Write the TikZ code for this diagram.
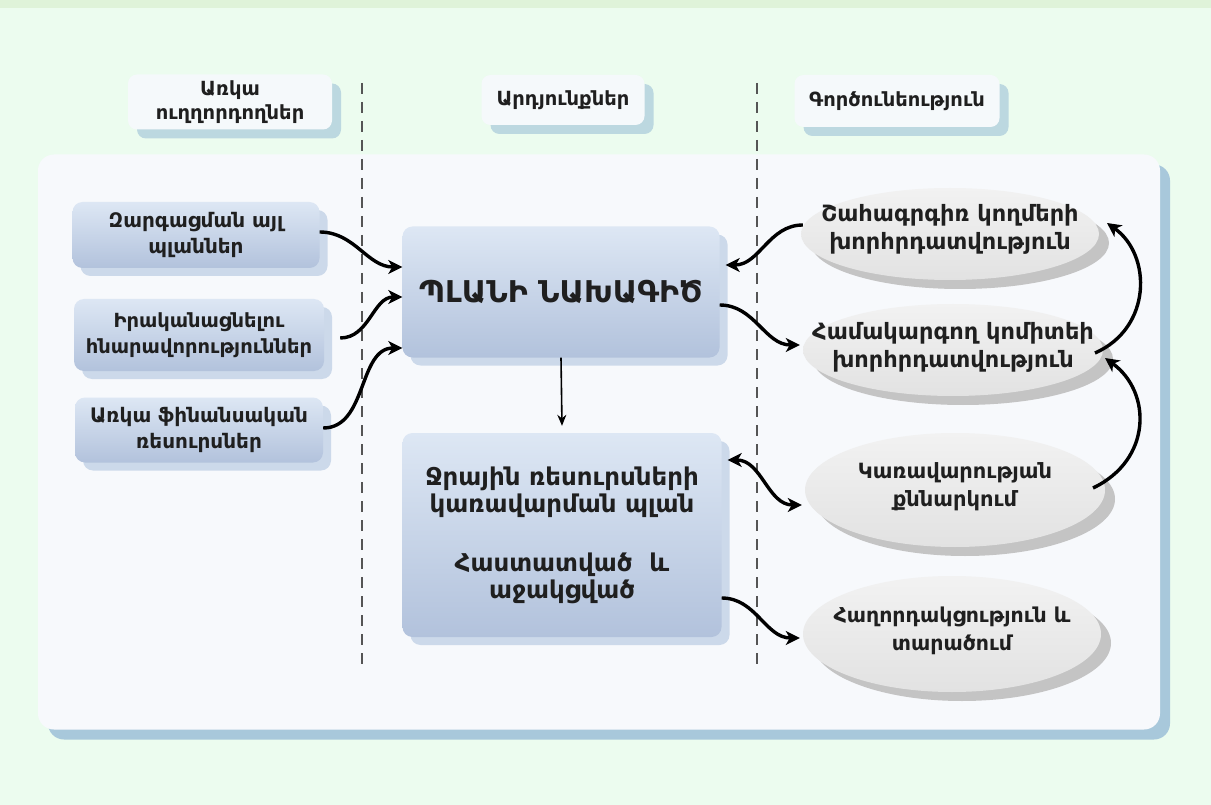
\documentclass[tikz,border=0pt]{standalone}
\usepackage{fontspec}
\setmainfont{DejaVu Sans}
\usetikzlibrary{arrows.meta,shadows,shapes.geometric,calc}
\definecolor{bgc}{HTML}{ECFCEF}
\definecolor{topc}{HTML}{DFF3D9}
\definecolor{panelc}{HTML}{F7F9FC}
\definecolor{panelsh}{HTML}{A8C8DB}
\definecolor{boxtop}{HTML}{DDE7F4}
\definecolor{boxbot}{HTML}{B2C2DC}
\definecolor{boxsh}{HTML}{CCD9EA}
\definecolor{hdrc}{HTML}{F5F9FB}
\definecolor{hdrsh}{HTML}{BCD8E0}
\definecolor{elltop}{HTML}{F2F2F2}
\definecolor{ellbot}{HTML}{E2E2E2}
\definecolor{ellsh}{HTML}{C4C4C4}
\definecolor{dashc}{HTML}{555555}
\begin{document}
\begin{tikzpicture}[x=1pt,y=-1pt,
  txt/.style={font=\bfseries\fontsize{20}{26}\selectfont, text=black!88, align=center},
  hdr/.style={txt, font=\bfseries\fontsize{19.5}{24}\selectfont, rounded corners=9pt, fill=hdrc, inner sep=0pt,
    drop shadow={shadow xshift=9pt, shadow yshift=-9pt, fill=hdrsh, opacity=1}},
  bluebox/.style={txt, rounded corners=10pt, top color=boxtop, bottom color=boxbot, inner sep=0pt,
    drop shadow={shadow xshift=8pt, shadow yshift=-8pt, fill=boxsh, opacity=1}},
  ell/.style={ellipse, top color=elltop, bottom color=ellbot, inner sep=0pt,
    drop shadow={shadow xshift=10pt, shadow yshift=-9pt, fill=ellsh, opacity=1}},
  arr/.style={line width=3.4pt, -{Stealth[length=14pt,width=14pt,inset=4pt]}},
  darr/.style={line width=3.4pt, {Stealth[length=14pt,width=14pt,inset=4pt]}-{Stealth[length=14pt,width=14pt,inset=4pt]}},
  sep/.style={dashc, line width=1.8pt, dash pattern=on 11pt off 8pt}
]
\useasboundingbox (0,0) rectangle (1211,805);
\fill[bgc] (0,0) rectangle (1211,805);
\fill[topc] (0,0) rectangle (1211,8);

% panel
\node[rounded corners=16pt, fill=panelc, minimum width=1122pt, minimum height=575pt, inner sep=0pt,
  drop shadow={shadow xshift=10pt, shadow yshift=-10pt, fill=panelsh, opacity=1}] (panel) at (599,442) {};

% separators
\coordinate (s1t) at (362,83); \coordinate (s1b) at (362,665);
\coordinate (s2t) at (757,83); \coordinate (s2b) at (757,665);
\draw[sep] (s1t) -- (s1b);
\draw[sep] (s2t) -- (s2b);

% headers
\node[hdr, minimum width=204pt, minimum height=55pt] (hL) at (230,102) {Առկա\\ուղղորդողներ};
\node[hdr, minimum width=163pt, minimum height=50pt] (hM) at (563,100) {Արդյունքներ};
\node[hdr, minimum width=205pt, minimum height=52pt] (hR) at (897,101) {Գործունեություն};

% left boxes
\node[bluebox, minimum width=247pt, minimum height=66pt] (L1) at (196,235) {Զարգացման այլ\\պլաններ};
\node[bluebox, font=\bfseries\fontsize{19.5}{26}\selectfont, minimum width=250pt, minimum height=72pt] (L2) at (199,335) {Իրականացնելու\\հնարավորություններ};
\node[bluebox, minimum width=248pt, minimum height=65pt] (L3) at (199,430) {Առկա ֆինանսական\\ռեսուրսներ};

% centre boxes
\node[bluebox, font=\bfseries\fontsize{30}{32}\selectfont, minimum width=317pt, minimum height=131pt] (C1) at (561,292) {ՊԼԱՆԻ ՆԱԽԱԳԻԾ};
\node[bluebox, font=\bfseries\fontsize{24.5}{27}\selectfont, minimum width=319pt, minimum height=204pt] (C2) at (562,535)
  {Ջրային ռեսուրսների\\կառավարման պլան\\[32pt]Հաստատված \ և\\աջակցված};

% ellipses (text as centred labels so that the ellipse keeps its size)
\node[ell, minimum width=298pt, minimum height=92pt,
  label={[txt, font=\bfseries\fontsize{22.5}{28}\selectfont, yshift=5pt]center:Շահագրգիռ կողմերի\\խորհրդատվություն}] (E1) at (950,234) {};
\node[ell, minimum width=300pt, minimum height=92pt,
  label={[txt, font=\bfseries\fontsize{22.5}{28}\selectfont, yshift=3pt]center:Համակարգող կոմիտեի\\խորհրդատվություն}] (E2) at (953,350) {};
\node[ell, minimum width=300pt, minimum height=114pt,
  label={[txt, font=\bfseries\fontsize{21}{28}\selectfont, yshift=3pt]center:Կառավարության\\քննարկում}] (E3) at (955,490) {};
\node[ell, minimum width=298pt, minimum height=116pt,
  label={[txt, font=\bfseries\fontsize{20.5}{28}\selectfont, yshift=3pt]center:Հաղորդակցություն և\\տարածում}] (E4) at (952,634) {};

% arrows left -> C1
\coordinate (c1a) at ($(C1.west)+(0,-25)$);
\coordinate (c1b) at ($(C1.west)+(0,5)$);
\coordinate (c1c) at ($(C1.west)+(0,56)$);
\draw[arr] ($(L1.east)+(0,-3)$) to[out=0,in=180] (c1a);
\draw[arr] ($(L2.east)+(16,3)$) to[out=0,in=180] (c1b);
\draw[arr] ($(L3.east)+(0,-2)$) to[out=0,in=180] (c1c);

% C1 -> C2
\draw[line width=1.6pt, -{Stealth[length=11pt,width=9pt]}] (C1.south) -- ($(C2.north)+(0,-7)$);

% right side
\coordinate (c1r1) at ($(C1.east)+(6,-27)$);
\coordinate (c1r2) at ($(C1.east)+(0,13)$);
\draw[arr] ($(E1.west)+(2,-9)$) to[out=180,in=0] (c1r1);
\draw[arr] (c1r2) to[out=0,in=180] ($(E2.west)+(-3,-5)$);
\coordinate (c2r1) at ($(C2.east)+(6,-75)$);
\coordinate (c2r2) at ($(C2.east)+(0,63)$);
\draw[darr] (c2r1) to[out=0,in=180] ($(E3.west)+(-3,15)$);
\draw[arr] (c2r2) to[out=0,in=180] ($(E4.west)+(-3,4)$);

% right loop arrows
\coordinate (e1in) at (1107,223);
\coordinate (e2out) at (1095,353);
\coordinate (e2in) at (1105,358);
\coordinate (e3out) at (1093,488);
\draw[arr] (e3out) .. controls (1152,460) and (1152,392) .. (e2in);
\draw[arr] (e2out) .. controls (1152,328) and (1152,255) .. (e1in);
\end{tikzpicture}
\end{document}
